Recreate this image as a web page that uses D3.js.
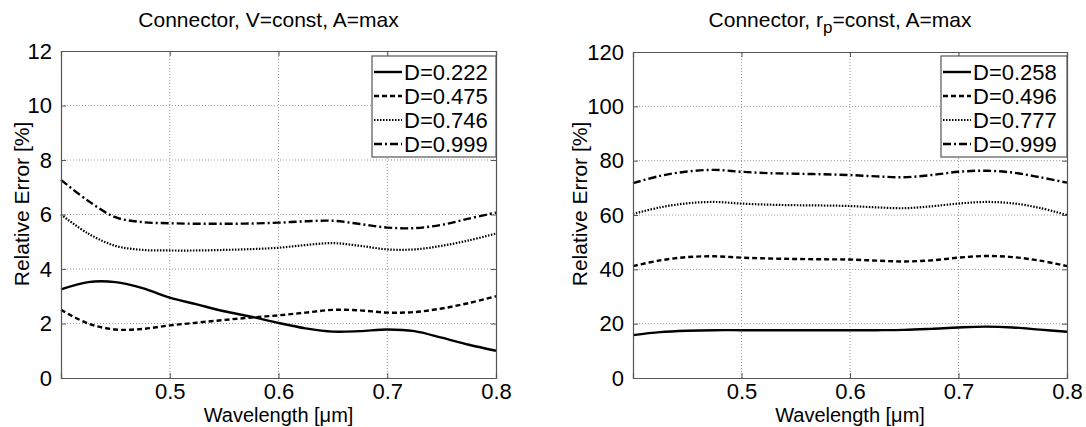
<!DOCTYPE html>
<html>
<head>
<meta charset="utf-8">
<script src="https://cdn.jsdelivr.net/npm/d3@7"></script>
<style>
  body { margin: 0; background: #fff; }
  text { font-family: "Liberation Sans", Arial, sans-serif; fill: #000; }
</style>
</head>
<body>
<script>
// wavelength samples [µm]
const wavelength = [0.40, 0.425, 0.45, 0.475, 0.50, 0.525, 0.55, 0.575, 0.60,
  0.625, 0.65, 0.675, 0.70, 0.725, 0.75, 0.775, 0.80];

// left panel: V=const
const leftNames = ["D=0.222", "D=0.475", "D=0.746", "D=0.999"];
const leftD222 = [3.25, 3.52, 3.52, 3.3, 2.95, 2.7, 2.45, 2.25, 2.02, 1.82, 1.7, 1.72, 1.78, 1.72, 1.48, 1.22, 1.0];
const leftD475 = [2.5, 2.0, 1.78, 1.8, 1.93, 2.03, 2.13, 2.22, 2.3, 2.4, 2.5, 2.48, 2.4, 2.42, 2.55, 2.75, 3.0];
const leftD746 = [6.0, 5.3, 4.85, 4.7, 4.68, 4.68, 4.7, 4.73, 4.78, 4.88, 4.95, 4.85, 4.72, 4.72, 4.85, 5.05, 5.3];
const leftD999 = [7.27, 6.5, 5.9, 5.72, 5.68, 5.66, 5.66, 5.67, 5.7, 5.75, 5.77, 5.65, 5.52, 5.5, 5.62, 5.85, 6.07];

// right panel: r_p=const
const rightNames = ["D=0.258", "D=0.496", "D=0.777", "D=0.999"];
const rightD258 = [15.8, 16.9, 17.4, 17.6, 17.6, 17.6, 17.6, 17.6, 17.6, 17.6, 17.7, 18.1, 18.6, 18.9, 18.6, 17.8, 17.0];
const rightD496 = [41.2, 43.3, 44.5, 44.8, 44.3, 44.0, 43.8, 43.7, 43.6, 43.2, 42.9, 43.3, 44.3, 44.9, 44.5, 43.2, 41.2];
const rightD777 = [60.4, 62.8, 64.3, 64.8, 64.2, 63.8, 63.6, 63.5, 63.3, 62.8, 62.5, 63.2, 64.2, 64.8, 64.3, 62.6, 60.0];
const rightD999 = [71.7, 74.4, 76.0, 76.6, 75.9, 75.4, 75.2, 75.0, 74.7, 74.2, 73.9, 74.7, 75.9, 76.3, 75.6, 73.9, 71.9];

const xTicks = [0.5, 0.6, 0.7, 0.8];
const leftYTicks = [0, 2, 4, 6, 8, 10, 12];
const rightYTicks = [0, 20, 40, 60, 80, 100, 120];

// line styles: solid, dashed, dotted, dash-dot
const styles = [
  { dash: null, width: 2.4 },
  { dash: "5,3", width: 2.4 },
  { dash: "1.5,1.5", width: 2.2 },
  { dash: "8,3,2,3", width: 2.4 }
];

const W = 1086, H = 427;
const svg = d3.select("body").append("svg").attr("width", W).attr("height", H);

function panel(opt) {
  const x = d3.scaleLinear().domain([0.4, 0.8]).range([opt.left, opt.right]);
  const y = d3.scaleLinear().domain([0, opt.ymax]).range([378, opt.top]);
  const g = svg.append("g");

  // grid
  g.selectAll(".gx").data(xTicks.filter(t => t < 0.8)).enter().append("line")
    .attr("x1", d => x(d)).attr("x2", d => x(d))
    .attr("y1", y(0)).attr("y2", y(opt.ymax))
    .attr("stroke", "#999").attr("stroke-width", 1).attr("stroke-dasharray", "1,2");
  g.selectAll(".gy").data(opt.yTicks.filter(t => t > 0 && t < opt.ymax)).enter().append("line")
    .attr("x1", x(0.4)).attr("x2", x(0.8))
    .attr("y1", d => y(d)).attr("y2", d => y(d))
    .attr("stroke", "#999").attr("stroke-width", 1).attr("stroke-dasharray", "1,2");

  // curves
  const line = d3.line().x((d, i) => x(wavelength[i])).y(d => y(d)).curve(d3.curveCatmullRom);
  opt.series.forEach((s, i) => {
    g.append("path").attr("d", line(s))
      .attr("fill", "none").attr("stroke", "#000")
      .attr("stroke-width", styles[i].width)
      .attr("stroke-dasharray", styles[i].dash);
  });

  // axes (ticks inside, box on all sides)
  const axColor = "#555";
  const bottom = g.append("g").attr("transform", `translate(0,${y(0)})`)
    .call(d3.axisBottom(x).tickValues(xTicks).tickSize(-5).tickPadding(5).tickFormat(d3.format(".1f")));
  const top = g.append("g").attr("transform", `translate(0,${y(opt.ymax)})`)
    .call(d3.axisTop(x).tickValues(xTicks).tickSize(-5).tickFormat(""));
  const left = g.append("g").attr("transform", `translate(${x(0.4)},0)`)
    .call(d3.axisLeft(y).tickValues(opt.yTicks).tickSize(-5).tickPadding(9));
  const right = g.append("g").attr("transform", `translate(${x(0.8)},0)`)
    .call(d3.axisRight(y).tickValues(opt.yTicks).tickSize(-5).tickFormat(""));
  [bottom, top, left, right].forEach(a => {
    a.select(".domain").attr("stroke", axColor).attr("stroke-width", 1.2);
    a.selectAll(".tick line").attr("stroke", axColor);
    a.selectAll("text").attr("font-size", 22).attr("font-family", "Liberation Sans, Arial, sans-serif").attr("fill", "#000");
  });
  bottom.selectAll("text").attr("dy", "0.71em");

  // title
  const cx = (opt.left + opt.right) / 2;
  const title = g.append("text").attr("x", cx - 10).attr("y", 27)
    .attr("text-anchor", "middle").attr("font-size", 21);
  opt.title(title);

  // axis labels
  g.append("text").attr("x", cx).attr("y", 422).attr("text-anchor", "middle")
    .attr("font-size", 20).text("Wavelength [\u03BCm]");
  g.append("text").attr("transform", `translate(${opt.ylabelX},204) rotate(-90)`)
    .attr("text-anchor", "middle").attr("font-size", 21).text("Relative Error [%]");

  // legend
  const lg = g.append("g");
  lg.append("rect").attr("x", opt.legX).attr("y", 56).attr("width", opt.right - opt.legX).attr("height", 101)
    .attr("fill", "#fff").attr("stroke", axColor).attr("stroke-width", 1.2);
  opt.names.forEach((n, i) => {
    const ry = 72 + i * 24;
    lg.append("line").attr("x1", opt.legX + 2).attr("x2", opt.legX + 30)
      .attr("y1", ry).attr("y2", ry).attr("stroke", "#000")
      .attr("stroke-width", styles[i].width).attr("stroke-dasharray", styles[i].dash);
    lg.append("text").attr("x", opt.legX + 32).attr("y", ry).attr("dy", "0.36em")
      .attr("font-size", 22).text(n);
  });
}

panel({
  left: 61, right: 496, top: 51, ymax: 12, yTicks: leftYTicks,
  series: [leftD222, leftD475, leftD746, leftD999], names: leftNames,
  legX: 372, ylabelX: 29,
  title: t => t.text("Connector, V=const, A=max")
});

panel({
  left: 633, right: 1067, top: 52, ymax: 120, yTicks: rightYTicks,
  series: [rightD258, rightD496, rightD777, rightD999], names: rightNames,
  legX: 941, ylabelX: 587,
  title: t => {
    t.append("tspan").text("Connector, r");
    t.append("tspan").attr("dy", 6).attr("font-size", 17).text("p");
    t.append("tspan").attr("dy", -6).text("=const, A=max");
  }
});
</script>
</body>
</html>
